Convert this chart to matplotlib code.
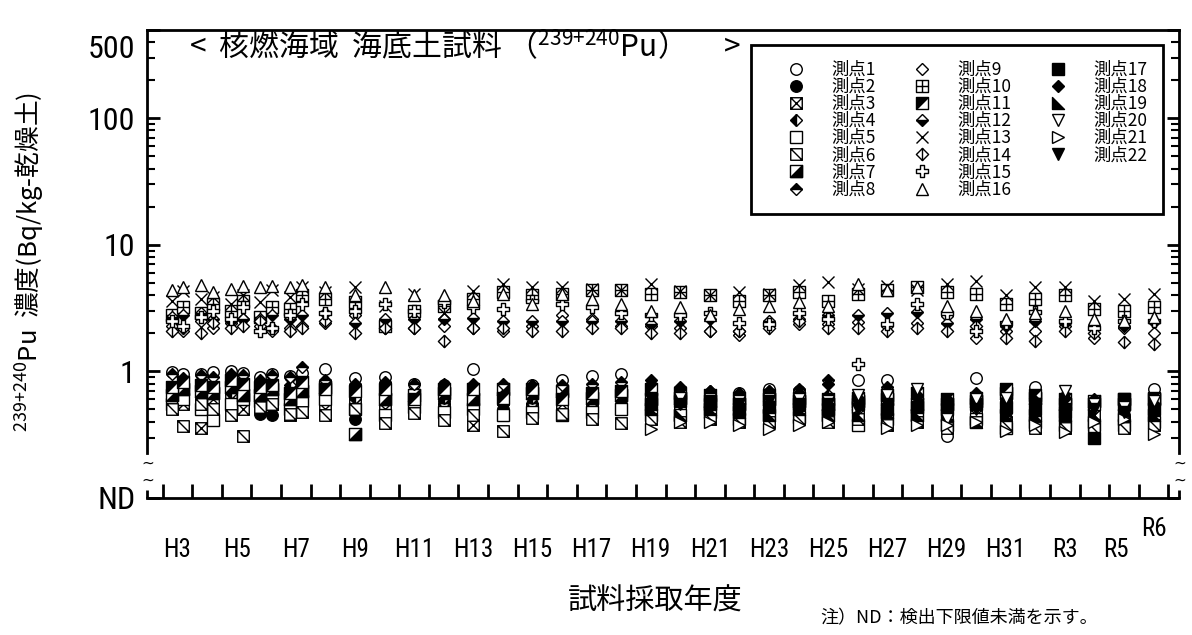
import matplotlib
matplotlib.use("Agg")
import matplotlib.pyplot as plt
import numpy as np
from matplotlib.path import Path
from matplotlib.ticker import NullFormatter
from matplotlib.transforms import ScaledTranslation
from matplotlib.legend_handler import HandlerTuple
from matplotlib import font_manager

installed = {f.name for f in font_manager.fontManager.ttflist}
jp = 'Noto Sans CJK JP'
narrow = 'Liberation Sans'
for cand in ('Liberation Sans Narrow', 'Roboto Condensed', 'Open Sans Condensed'):
    if cand in installed:
        narrow = cand
        break

plt.rcParams['font.family'] = [jp, 'DejaVu Sans']
plt.rcParams['mathtext.fontset'] = 'custom'
plt.rcParams['mathtext.rm'] = jp
plt.rcParams['mathtext.it'] = jp
plt.rcParams['mathtext.bf'] = jp

NA = None

# fiscal years on the x axis (H31 = R1)
years = [f'H{n}' for n in range(3, 32)] + ['R2', 'R3', 'R4', 'R5', 'R6']
# surveys: two per year up to H7, one per year afterwards
surveys = ['H3', 'H3', 'H4', 'H4', 'H5', 'H5', 'H6', 'H6', 'H7', 'H7'] + years[5:]
shown_labels = ['H3', 'H5', 'H7', 'H9', 'H11', 'H13', 'H15', 'H17', 'H19', 'H21',
                'H23', 'H25', 'H27', 'H29', 'H31', 'R3', 'R5', 'R6']

# 239+240Pu (Bq/kg dry), one value per survey, layout: H3a..H7b / H8..H17 / H18..H27 / H28..R6
st01 = [0.98, 0.95, 0.96, 0.99, 1.00, 0.97, 0.90, 0.95, 0.92, 0.97,
        1.05, 0.88, 0.90, 0.80, 0.78, 1.05, 0.75, 0.78, 0.86, 0.92,
        0.95, 0.72, 0.70, 0.65, 0.68, 0.72, 0.70, 0.62, 0.86, 0.85,
        0.60, 0.31, 0.88, 0.60, 0.75, 0.62, 0.55, 0.50, 0.73]
st02 = [0.55, 0.62, 0.58, 0.65, 0.60, 0.55, 0.46, 0.45, 0.60, 0.52,
        0.55, 0.42, 0.55, 0.60, 0.58, 0.55, 0.50, 0.55, 0.60, 0.62,
        0.55, 0.55, 0.50, 0.52, 0.50, 0.55, 0.50, 0.48, 0.50, 0.52,
        0.50, 0.45, 0.55, 0.48, 0.50, 0.45, 0.42, 0.45, 0.45]
st03 = [0.62, 0.55, 0.36, 0.60, 0.65, 0.50, 0.70, 0.55, 0.45, 0.50,
        0.50, 0.55, 0.50, 0.55, 0.50, 0.38, 0.60, 0.50, 0.55, 0.50,
        0.50, 0.55, 0.50, 0.55, 0.45, 0.50, 0.48, 0.52, 0.45, 0.48,
        0.50, 0.42, 0.45, 0.40, 0.42, 0.42, 0.45, 0.40, 0.42]
st04 = [0.70, 0.62, 0.75, 0.80, 0.68, 0.72, 0.80, 0.70, 0.78, 0.72,
        0.70, 0.62, 0.68, 0.70, 0.62, 0.68, 0.70, 0.62, 0.65, 0.70,
        0.65, 0.68, 0.62, 0.60, 0.58, 0.62, 0.60, 0.65, 0.60, 0.62,
        0.60, 0.55, 0.60, 0.55, 0.55, 0.55, 0.50, 0.52, 0.50]
st05 = [0.55, 0.60, 0.50, 0.41, 0.55, 0.60, 0.58, 0.60, 0.50, 0.58,
        0.60, 0.50, 0.45, 0.52, 0.48, 0.50, 0.45, 0.48, 0.45, 0.48,
        0.50, 0.45, 0.45, 0.48, 0.42, 0.45, 0.44, 0.45, 0.38, 0.42,
        0.45, 0.38, 0.42, 0.36, 0.40, 0.38, 0.38, 0.38, 0.40]
st06 = [0.50, 0.37, 0.55, 0.50, 0.45, 0.31, 0.52, 0.55, 0.46, 0.48,
        0.45, 0.50, 0.39, 0.47, 0.41, 0.45, 0.34, 0.43, 0.46, 0.42,
        0.39, 0.42, 0.40, 0.42, 0.40, 0.40, 0.42, 0.40, 0.42, 0.38,
        0.40, 0.36, 0.40, 0.38, 0.36, 0.36, 0.35, 0.36, 0.38]
st07 = [0.65, 0.72, 0.70, 0.68, 0.75, 0.65, 0.65, 0.72, 0.60, 0.70,
        0.75, 0.32, 0.60, 0.65, 0.68, 0.60, 0.72, 0.68, 0.70, 0.62,
        0.65, 0.60, 0.62, 0.58, 0.55, 0.60, 0.58, 0.55, 0.58, 0.60,
        0.55, 0.55, 0.58, 0.68, 0.62, 0.55, 0.58, 0.55, 0.60]
st08 = [0.95, 0.88, 0.93, 0.90, 0.95, 0.93, 0.85, 0.93, 0.90, 1.08,
        0.85, 0.80, 0.82, 0.80, 0.80, 0.80, 0.80, 0.78, 0.78, 0.80,
        0.82, 0.80, 0.75, 0.70, 0.68, 0.70, 0.72, 0.85, 0.65, 0.75,
        0.70, 0.60, 0.68, 0.60, 0.60, 0.65, 0.60, 0.58, 0.60]
st09 = [2.3, 2.1, 2.5, 2.2, 2.4, 2.6, 2.3, 2.1, 2.2, 2.3,
        2.4, 2.8, 2.2, 2.2, 2.3, 2.2, 2.1, 2.3, 2.8, 2.6,
        2.3, 2.3, 2.2, 2.1, 1.95, 2.35, 2.35, 2.35, 2.45, 2.3,
        2.4, 2.75, 1.85, 2.1, 2.1, 2.3, 1.85, 2.2, 2.0]
st10 = [2.8, 3.2, 2.9, 3.4, 3.0, 3.6, 2.7, 3.2, 3.1, 4.0,
        3.7, 3.5, 2.3, 3.0, 3.3, 3.7, 4.2, 4.0, 4.1, 4.4,
        4.4, 4.1, 4.2, 4.0, 3.6, 4.0, 4.2, 3.6, 4.1, 4.4,
        4.6, 4.2, 4.1, 3.4, 3.7, 4.0, 3.1, 3.0, 3.2]
st11 = [0.75, 0.82, 0.78, 0.75, 0.85, 0.80, 0.75, 0.78, 0.68, 0.82,
        0.72, 0.70, 0.72, 0.60, 0.72, 0.72, 0.62, 0.72, 0.60, 0.68,
        0.70, 0.72, 0.68, 0.65, 0.62, 0.65, 0.62, 0.60, 0.62, 0.65,
        0.68, 0.60, 0.62, 0.72, 0.65, 0.60, 0.55, 0.60, 0.62]
st12 = [2.7, 2.8, 2.9, 2.6, 2.5, 2.6, 2.6, 2.8, 2.6, 2.8,
        2.9, 2.4, 2.6, 2.6, 2.6, 2.65, 2.5, 2.5, 2.5, 2.5,
        2.5, 2.35, 2.5, 2.6, 2.1, 2.5, 2.6, 2.8, 2.8, 2.9,
        2.95, 2.4, 2.6, 2.3, 2.5, 2.4, 2.3, 2.3, 2.45]
st13 = [3.6, 4.3, 3.7, 3.9, 3.4, 4.0, 3.5, 4.4, 3.9, 4.6,
        4.2, 4.6, 3.3, 4.1, 2.9, 4.3, 4.9, 4.6, 4.6, 4.5,
        4.4, 4.9, 4.3, 4.0, 4.2, 4.1, 4.8, 5.1, 4.5, 4.7,
        4.4, 4.9, 5.2, 4.0, 4.6, 4.6, 3.6, 3.7, 4.1]
st14 = [2.1, 2.2, 2.0, 2.4, 2.2, 2.3, 2.5, 2.2, 2.1, 2.2,
        2.5, 2.0, 2.2, 2.2, 1.75, 2.2, 2.2, 2.1, 2.1, 2.2,
        2.2, 2.0, 2.0, 2.1, 2.1, 2.2, 2.5, 2.2, 2.2, 2.1,
        2.2, 2.1, 2.3, 1.85, 1.75, 2.1, 2.0, 1.7, 1.65]
st15 = [2.5, 2.3, 2.7, 3.0, 2.6, 3.2, 2.1, 2.2, 2.8, 3.4,
        2.9, 3.0, 3.4, 3.0, 3.5, 3.2, 3.1, 3.6, 3.4, 3.2,
        2.9, 2.8, 2.8, 2.9, 2.4, 2.35, 2.9, 2.6, 1.15, 2.35,
        3.4, 2.9, 2.1, 2.4, 2.95, 2.5, 2.2, 2.5, 2.5]
st16 = [4.4, 4.6, 4.8, 4.2, 4.5, 4.7, 4.6, 4.7, 4.6, 4.8,
        4.6, 4.0, 4.6, 4.0, 4.0, 3.6, 4.1, 3.4, 4.1, 3.7,
        3.4, 3.0, 3.2, 2.8, 3.1, 3.3, 3.5, 3.3, 4.9, 4.4,
        4.6, 3.3, 3.0, 2.6, 2.9, 3.0, 2.6, 2.5, 2.7]
# stations 17-22 start in H19
st17 = [NA] * 21 + [0.55, 0.58, 0.55, 0.50, 0.52, 0.55, 0.50, 0.55, 0.50,
                    0.52, 0.50, 0.55, 0.52, 0.50, 0.48, 0.30, 0.60, 0.50]
st18 = [NA] * 21 + [0.85, 0.72, 0.70, 0.65, 0.70, 0.68, 0.80, 0.62, 0.70,
                    0.65, 0.60, 0.65, 0.58, 0.58, 0.62, 0.58, 0.55, 0.55]
st19 = [NA] * 21 + [0.50, 0.45, 0.50, 0.48, 0.45, 0.50, 0.45, 0.45, 0.48,
                    0.45, 0.45, 0.40, 0.45, 0.45, 0.45, 0.45, 0.45, 0.45]
st20 = [NA] * 21 + [0.62, 0.62, 0.60, 0.58, 0.60, 0.60, 0.58, 0.65, 0.65,
                    0.72, 0.42, 0.60, 0.62, 0.55, 0.70, 0.55, 0.52, 0.58]
st21 = [NA] * 21 + [0.35, 0.40, 0.40, 0.38, 0.35, 0.38, 0.40, 0.52, 0.36,
                    0.38, 0.38, 0.40, 0.34, 0.38, 0.33, 0.40, 0.42, 0.32]
st22 = [NA] * 21 + [0.60, 0.55, 0.58, 0.55, 0.58, 0.55, 0.55, 0.50, 0.55,
                    0.58, 0.52, 0.50, 0.50, 0.55, 0.50, 0.50, 0.48, 0.48]

stations = [st01, st02, st03, st04, st05, st06, st07, st08, st09, st10, st11,
            st12, st13, st14, st15, st16, st17, st18, st19, st20, st21, st22]
names = [f'測点{i}' for i in range(1, 23)]


# ---- marker shapes ----
def boxed(*segs):
    verts = [(-1, -1), (1, -1), (1, 1), (-1, 1), (-1, -1)]
    codes = [Path.MOVETO, Path.LINETO, Path.LINETO, Path.LINETO, Path.CLOSEPOLY]
    for a, b in segs:
        verts += [a, b]
        codes += [Path.MOVETO, Path.LINETO]
    return Path(verts, codes)


def poly(pts):
    return Path(pts + [pts[0]], [Path.MOVETO] + [Path.LINETO] * (len(pts) - 1) + [Path.CLOSEPOLY])


diamond_bar = Path([(0, 1), (1, 0), (0, -1), (-1, 0), (0, 1), (0, 1), (0, -1)],
                   [Path.MOVETO, Path.LINETO, Path.LINETO, Path.LINETO, Path.CLOSEPOLY,
                    Path.MOVETO, Path.LINETO])
a = 0.36
plus_outline = poly([(-a, 1), (a, 1), (a, a), (1, a), (1, -a), (a, -a), (a, -1),
                     (-a, -1), (-a, -a), (-1, -a), (-1, a), (-a, a)])
tri_lr = poly([(1, 1), (1, -1), (-1, -1)])
tri_ul = poly([(-1, 1), (1, 1), (-1, -1)])
right_tri = poly([(-1, 1), (-1, -1), (1, -1)])

M = 8.3
MD = 6.2
styles = [
    [dict(marker='o', ms=M, mfc='white')],
    [dict(marker='o', ms=M, mfc='black')],
    [dict(marker=boxed(((-1, -1), (1, 1)), ((-1, 1), (1, -1))), ms=M, mfc='white')],
    [dict(marker='D', ms=MD, mfc='black', mfcalt='white', fillstyle='left')],
    [dict(marker='s', ms=M, mfc='white')],
    [dict(marker=boxed(((-1, 1), (1, -1))), ms=M, mfc='white')],
    [dict(marker=boxed(), ms=M, mfc='white'), dict(marker=tri_lr, ms=M, mfc='black')],
    [dict(marker='D', ms=MD, mfc='black', mfcalt='white', fillstyle='top')],
    [dict(marker='D', ms=MD, mfc='white')],
    [dict(marker=boxed(((0, -1), (0, 1)), ((-1, 0), (1, 0))), ms=M, mfc='white')],
    [dict(marker=boxed(), ms=M, mfc='white'), dict(marker=tri_ul, ms=M, mfc='black')],
    [dict(marker='D', ms=MD, mfc='black', mfcalt='white', fillstyle='bottom')],
    [dict(marker='x', ms=M)],
    [dict(marker=diamond_bar, ms=8.8, mfc='white')],
    [dict(marker=plus_outline, ms=M, mfc='white')],
    [dict(marker='^', ms=M, mfc='white')],
    [dict(marker='s', ms=M, mfc='black')],
    [dict(marker='D', ms=MD, mfc='black')],
    [dict(marker=right_tri, ms=M, mfc='black')],
    [dict(marker='v', ms=M, mfc='white')],
    [dict(marker='>', ms=M, mfc='white')],
    [dict(marker='v', ms=M, mfc='black')],
]

# x position of each survey: year index, split left/right when two surveys in a year
xpos = []
for k, s in enumerate(surveys):
    base = years.index(s)
    if surveys.count(s) == 2:
        xpos.append(base - 0.2 if surveys.index(s) == k else base + 0.2)
    else:
        xpos.append(base)
xpos = np.array(xpos, dtype=float)

fig = plt.figure(figsize=(11.92, 6.35), dpi=100)
ax = fig.add_axes([147.3 / 1192, 1 - 498 / 635, 1032 / 1192, 468.4 / 635])

handles = []
for vals, st in zip(stations, styles):
    y = np.array(vals, dtype=float)
    arts = []
    for kw in st:
        line, = ax.plot(xpos, y, linestyle='none', mec='black', mew=1.0, **kw)
        arts.append(line)
    handles.append(tuple(arts) if len(arts) > 1 else arts[0])

ax.set_yscale('log')
ax.set_ylim(0.1, 500)
ax.set_xlim(-1.02, 33.87)

ax.set_yticks([0.1, 1, 10, 100, 500])
ax.set_yticklabels(['ND', '1', '10', '100', '500'])
minor_y = [m * 10.0 ** e for e in (-1, 0, 1, 2) for m in range(2, 10) if 0.3 <= m * 10.0 ** e < 500]
ax.set_yticks(minor_y, minor=True)
ax.yaxis.set_minor_formatter(NullFormatter())
ax.tick_params(axis='y', which='both', direction='in', left=True, right=True,
               labelsize=23, pad=8.5, labelfontfamily=narrow)
ax.tick_params(axis='y', which='major', length=9, width=2)
ax.tick_params(axis='y', which='minor', length=6, width=1.5)
for lab in ax.get_yticklabels():
    if lab.get_text() == '500':
        lab.set_transform(lab.get_transform() + ScaledTranslation(0, -12 / 72, fig.dpi_scale_trans))

ax.set_xticks(np.arange(len(years) + 1) - 0.5)
ax.xaxis.set_major_formatter(NullFormatter())
ax.set_xticks([years.index(s) for s in shown_labels], shown_labels, minor=True)
ax.tick_params(axis='x', which='major', direction='in', length=10, width=2, top=False)
ax.tick_params(axis='x', which='minor', length=0, pad=29, labelsize=18, labelfontfamily=narrow)
for lab in ax.get_xticklabels(minor=True):
    if lab.get_text() == 'R6':
        lab.set_transform(lab.get_transform() + ScaledTranslation(0, 15 / 72, fig.dpi_scale_trans))
    if lab.get_text() == 'R5':
        lab.set_transform(lab.get_transform() + ScaledTranslation(-6 / 72, 0, fig.dpi_scale_trans))

# frame with broken y axis near ND
for side in ('left', 'right', 'top', 'bottom'):
    ax.spines[side].set_linewidth(2)
ax.spines['left'].set_bounds(0.225, 500)
ax.spines['right'].set_bounds(0.225, 500)
for xs in (0, 1):
    ax.plot([xs, xs], [0, 0.017], transform=ax.transAxes, color='black', lw=2,
            clip_on=False, solid_capstyle='butt')
    for yy in (0.075, 0.038):
        ax.text(xs, yy, '~', transform=ax.transAxes, ha='center', va='center',
                fontsize=11, family='DejaVu Sans')

ax.text(0.04, 0.963, '<  核燃海域  海底土試料 （$^{239{+}240}$Pu）\u3000 >', transform=ax.transAxes,
        fontsize=21.5, ha='left', va='center')

# two blank entries so the legend columns hold 8, 8 and 6 stations
blank = plt.Line2D([], [], linestyle='none')
leg = ax.legend(handles + [blank, blank], names + ['', ''], ncol=3, loc='upper right',
                bbox_to_anchor=(0.984, 0.967), borderaxespad=0, fontsize=12.5, frameon=True,
                fancybox=False, edgecolor='black', framealpha=1, borderpad=0.9,
                handlelength=3.37, handletextpad=0.33, columnspacing=1.0, labelspacing=-0.05,
                numpoints=1, handler_map={tuple: HandlerTuple(ndivide=1)})
leg.get_frame().set_linewidth(2)

fig.text(30 / 1192, 1 - 262 / 635, '$^{239{+}240}$Pu  濃度(Bq/kg-乾燥土)', rotation=90,
         ha='center', va='center', fontsize=18.5)
fig.text(655 / 1192, 1 - 602 / 635, '試料採取年度', ha='center', va='center', fontsize=21)
fig.text(820 / 1192, 1 - 618 / 635, '注）ND：検出下限値未満を示す。', ha='left', va='center', fontsize=13)

fig.savefig('out.png', dpi=100, facecolor='white')
